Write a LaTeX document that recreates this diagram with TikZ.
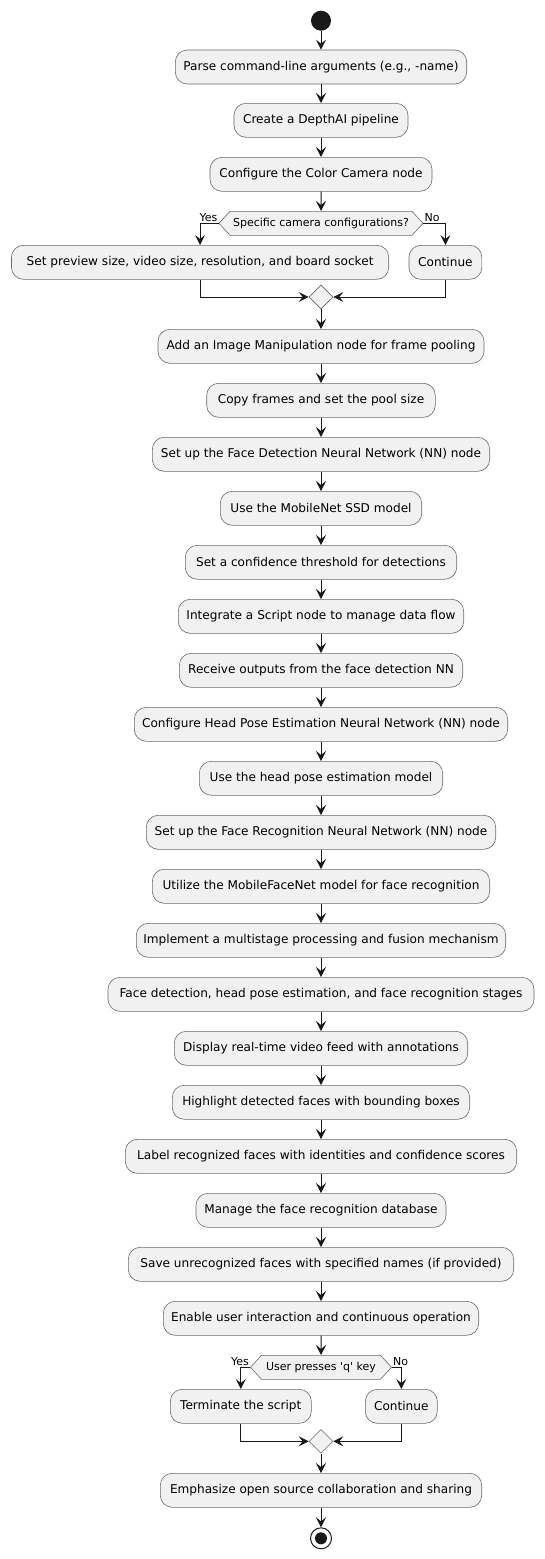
\documentclass[tikz,border=0pt]{standalone}
\usepackage{fontspec}
\setmainfont{DejaVu Sans}
\usetikzlibrary{arrows.meta,shapes.geometric,shapes.symbols}
\definecolor{boxfill}{HTML}{F1F1F1}
\definecolor{ink}{HTML}{181818}
\definecolor{edge}{HTML}{6A6A6A}
\begin{document}
\begin{tikzpicture}[x=1pt,y=-1pt,
  act/.style={draw=edge, line width=0.6pt, fill=boxfill, rounded corners=12pt, minimum height=34pt, inner xsep=0pt, inner ysep=0pt, font=\fontsize{12.1}{14}\selectfont, text=black},
  hexa/.style={shape=signal, signal to=west and east, signal pointer angle=95, draw=edge, fill=boxfill, line width=0.6pt, inner xsep=0pt, inner ysep=0pt, minimum height=24pt, font=\fontsize{11}{13}\selectfont},
  merge/.style={diamond, draw=edge, fill=boxfill, line width=0.6pt, minimum width=24pt, minimum height=24pt, inner sep=0pt},
  lbl/.style={inner sep=1pt, font=\fontsize{11}{13}\selectfont},
  startc/.style={circle, fill=ink, minimum size=20pt, inner sep=0pt},
  endc/.style={circle, draw=ink, line width=1pt, fill=white, minimum size=21pt, inner sep=0pt, path picture={\fill[ink] (path picture bounding box.center) circle (6pt);}},
  arr/.style={draw=ink, line width=1pt, -{Stealth[length=10pt,width=10pt,inset=4pt]}}
]
\useasboundingbox[fill=white] (0,0) rectangle (544,1559);

\node[startc] (start) at (321,20.7) {};
\node[act, minimum width=291.4pt] (a1) at (321,67) {Parse command-line arguments (e.g., -name)};
\node[act, minimum width=174pt] (a2) at (321,120.3) {Create a DepthAI pipeline};
\node[act, minimum width=222pt] (a3) at (321,174.3) {Configure the Color Camera node};
\node[hexa, minimum width=204pt] (d1) at (321,223.3) {Specific camera configurations?};
\node[lbl, anchor=south east] (ly1) at (d1.west) {Yes};
\node[lbl, anchor=south west] (ln1) at (d1.east) {No};
\node[act, minimum width=377.3pt] (y1) at (200.1,262.3) {Set preview size, video size, resolution, and board socket};
\node[act, minimum width=72.9pt] (n1) at (445.4,262.3) {Continue};
\node[merge] (m1) at (321,297) {};
\node[act, minimum width=326pt] (a4) at (321,346.3) {Add an Image Manipulation node for frame pooling};
\node[act, minimum width=228.6pt] (a5) at (321,400.3) {Copy frames and set the pool size};
\node[act, minimum width=337.4pt] (a6) at (321,454.3) {Set up the Face Detection Neural Network (NN) node};
\node[act, minimum width=201.4pt] (a7) at (321,508.3) {Use the MobileNet SSD model};
\node[act, minimum width=271.4pt] (a8) at (321,562.3) {Set a confidence threshold for detections};
\node[act, minimum width=285.4pt] (a9) at (321,616.3) {Integrate a Script node to manage data flow};
\node[act, minimum width=283.4pt] (a10) at (321,670.3) {Receive outputs from the face detection NN};
\node[act, minimum width=373.4pt] (a11) at (321,724.3) {Configure Head Pose Estimation Neural Network (NN) node};
\node[act, minimum width=243.4pt] (a12) at (321,778.3) {Use the head pose estimation model};
\node[act, minimum width=349.4pt] (a13) at (321,832.3) {Set up the Face Recognition Neural Network (NN) node};
\node[act, minimum width=337.4pt] (a14) at (321,886.3) {Utilize the MobileFaceNet model for face recognition};
\node[act, minimum width=369.4pt] (a15) at (321,940.3) {Implement a multistage processing and fusion mechanism};
\node[act, minimum width=426pt] (a16) at (321,994.3) {Face detection, head pose estimation, and face recognition stages};
\node[act, minimum width=293.4pt] (a17) at (321,1048.3) {Display real-time video feed with annotations};
\node[act, minimum width=297.4pt] (a18) at (321,1102.3) {Highlight detected faces with bounding boxes};
\node[act, minimum width=391.4pt] (a19) at (321,1156.3) {Label recognized faces with identities and confidence scores};
\node[act, minimum width=250pt] (a20) at (321,1210.3) {Manage the face recognition database};
\node[act, minimum width=385.4pt] (a21) at (321,1264.3) {Save unrecognized faces with specified names (if provided)};
\node[act, minimum width=315.4pt] (a22) at (321,1318.3) {Enable user interaction and continuous operation};
\node[hexa, minimum width=141pt] (d2) at (321,1367.3) {User presses \textquotesingle q\textquotesingle{} key};
\node[lbl, anchor=south east] (ly2) at (d2.west) {Yes};
\node[lbl, anchor=south west] (ln2) at (d2.east) {No};
\node[act, minimum width=141pt] (y2) at (240.8,1406.3) {Terminate the script};
\node[act, minimum width=72pt] (n2) at (401.3,1406.3) {Continue};
\node[merge] (m2) at (321,1441.3) {};
\node[act, minimum width=321.4pt] (a23) at (321,1490.3) {Emphasize open source collaboration and sharing};
\node[endc] (stop) at (321,1538.3) {};

\draw[arr] (start) -- (a1);
\draw[arr] (a1) -- (a2);
\draw[arr] (a2) -- (a3);
\draw[arr] (a3) -- (d1);
\draw[arr] (d1.west) -| (y1.north);
\draw[arr] (d1.east) -| (n1.north);
\draw[arr] (y1.south) |- (m1.west);
\draw[arr] (n1.south) |- (m1.east);
\draw[arr] (m1) -- (a4);
\draw[arr] (a4) -- (a5);
\draw[arr] (a5) -- (a6);
\draw[arr] (a6) -- (a7);
\draw[arr] (a7) -- (a8);
\draw[arr] (a8) -- (a9);
\draw[arr] (a9) -- (a10);
\draw[arr] (a10) -- (a11);
\draw[arr] (a11) -- (a12);
\draw[arr] (a12) -- (a13);
\draw[arr] (a13) -- (a14);
\draw[arr] (a14) -- (a15);
\draw[arr] (a15) -- (a16);
\draw[arr] (a16) -- (a17);
\draw[arr] (a17) -- (a18);
\draw[arr] (a18) -- (a19);
\draw[arr] (a19) -- (a20);
\draw[arr] (a20) -- (a21);
\draw[arr] (a21) -- (a22);
\draw[arr] (a22) -- (d2);
\draw[arr] (d2.west) -| (y2.north);
\draw[arr] (d2.east) -| (n2.north);
\draw[arr] (y2.south) |- (m2.west);
\draw[arr] (n2.south) |- (m2.east);
\draw[arr] (m2) -- (a23);
\draw[arr] (a23) -- (stop);
\end{tikzpicture}
\end{document}
